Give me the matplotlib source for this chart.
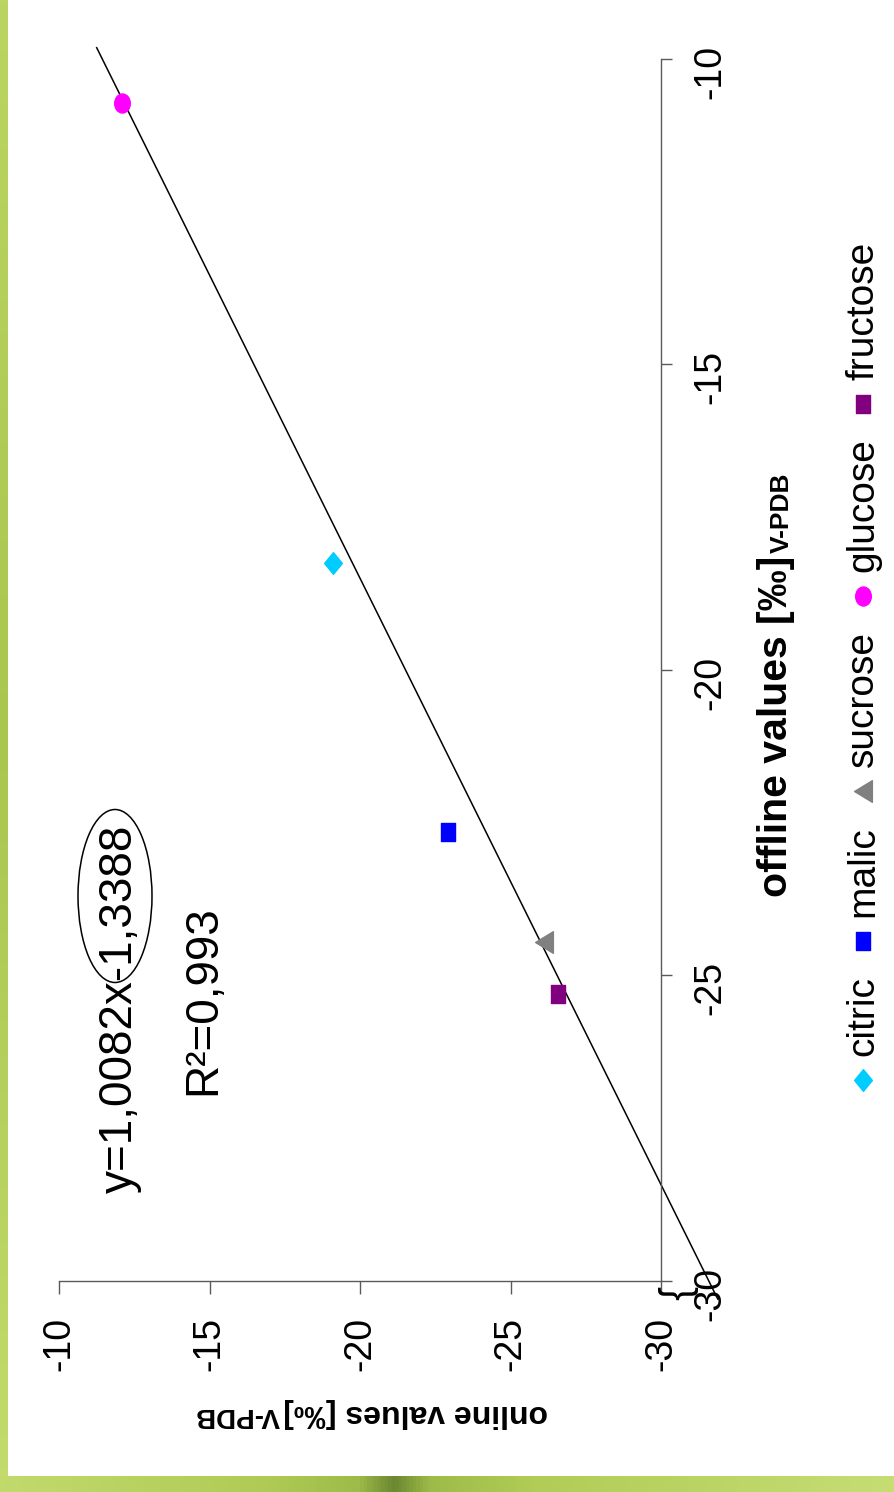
import matplotlib
matplotlib.use("Agg")
import matplotlib.pyplot as plt
import matplotlib.transforms as mtransforms
from matplotlib.markers import MarkerStyle
from matplotlib.patches import Ellipse
from matplotlib.colors import LinearSegmentedColormap
from matplotlib import font_manager
import numpy as np

W, H = 895, 1492

# d13C of each compound, offline (EA) vs online measurement
compounds = ["citric", "malic", "sucrose", "glucose", "fructose"]
offline_vals = [-18.26, -22.66, -24.46, -10.73, -25.30]
online_vals = [-19.11, -22.91, -26.10, -12.08, -26.57]

# linear trend online = slope * offline + intercept
slope, intercept = 1.0082, -1.3388
r_squared = 0.993
trend_range = [-30.3, -9.82]

ticks = [-10, -15, -20, -25, -30]

colors = ["#00CCFF", "#0000FF", "#808080", "#FF00FF", "#800080"]
markers = ["D", "s", "<", "o", "s"]
marker_sizes = [15.6, 13, 15.6, 13.7, 13]

plt.rcParams["font.family"] = ["Liberation Sans", "DejaVu Sans"]
plt.rcParams["axes.unicode_minus"] = False

try:
    font_manager.findfont(font_manager.FontProperties(family="Liberation Sans Narrow", weight="bold"),
                          fallback_to_default=False)
    narrow, narrow_size = "Liberation Sans Narrow", 27
except ValueError:
    narrow, narrow_size = "Liberation Sans", 23

fig = plt.figure(figsize=(W / 100, H / 100), dpi=100)
fig.patch.set_facecolor("white")

# pixel coordinates measured from the top-left corner
PX = mtransforms.Affine2D().scale(1, -1).translate(0, H)


def tall(m):
    # markers come out a bit taller than wide
    ms = MarkerStyle(m)
    path = ms.get_path().transformed(ms.get_transform())
    return path.transformed(mtransforms.Affine2D().scale(0.82, 1.0))


# green slide border
border = LinearSegmentedColormap.from_list("border", [
    (0.0, "#c2da6c"), (0.3, "#afcb55"), (0.40, "#9dbb48"), (0.44, "#6b8732"),
    (0.48, "#9dbb48"), (0.6, "#b1cd56"), (1.0, "#c6dd74")])
bax = fig.add_axes([0, 0, 1, 16 / H])
bax.imshow(np.linspace(0, 1, 256)[None, :], aspect="auto", cmap=border)
bax.axis("off")
side = LinearSegmentedColormap.from_list("side", ["#bcd562", "#a9c64e", "#c3db6c"])
lax = fig.add_axes([0, 16 / H, 8 / W, 1 - 16 / H])
lax.imshow(np.linspace(0, 1, 256)[:, None], aspect="auto", cmap=side)
lax.axis("off")

# rotated chart: online values run along the horizontal axis, offline values vertically
x0, x1 = 59.4, 661.0
y0, y1 = 58.7, 1280.7
ax = fig.add_axes([x0 / W, (H - y1) / H, (x1 - x0) / W, (y1 - y0) / H])
ax.set_xlim(-10, -30)
ax.set_ylim(-30, -10)
ax.set_facecolor("none")
for s in ["top", "left"]:
    ax.spines[s].set_visible(False)
for s in ["bottom", "right"]:
    ax.spines[s].set_color("#5a5a5a")
    ax.spines[s].set_linewidth(1.0)
ax.yaxis.tick_right()
ax.set_xticks(ticks)
ax.set_yticks(ticks)
ax.set_xticklabels([str(t) for t in ticks])
ax.set_yticklabels([str(t) for t in ticks])
ax.tick_params(axis="x", direction="out", length=9.4, width=1.0, color="#5a5a5a",
               pad=17, labelsize=27, labelrotation=90)
ax.tick_params(axis="y", direction="out", length=7.7, width=1.0, color="#5a5a5a",
               pad=15, labelsize=27, labelrotation=90, left=False, right=True)

# trend line from the fitted equation
tx = np.array(trend_range)
ax.plot(slope * tx + intercept, tx, color="black", lw=1.1, clip_on=False, zorder=2)

for off, on, c, m, ms in zip(offline_vals, online_vals, colors, markers, marker_sizes):
    ax.plot([on], [off], ls="none", marker=tall(m), ms=ms, color=c, mec=c, zorder=3)

# equation and R²
eq = f"y={slope:.4f}x{intercept:+.4f}".replace(".", ",")
fig.text(132, 1193, eq, transform=PX, rotation=90, rotation_mode="anchor",
         ha="left", va="baseline", fontsize=33)
fig.text(215, 1095, f"R²={r_squared:.3f}".replace(".", ","), transform=PX, rotation=90,
         rotation_mode="anchor", ha="left", va="baseline", fontsize=33)
fig.add_artist(Ellipse((115, 896), 74, 173, transform=PX, fill=False, ec="black", lw=1.1))

# axis break mark at the corner
fig.text(676, 1293, "}", transform=PX, rotation=-90, ha="center", va="center", fontsize=30)

fig.canvas.draw()
renderer = fig.canvas.get_renderer()
ID = mtransforms.IdentityTransform()

# axis titles with V-PDB subscript
t = fig.text(787, 897, "offline values [‰]", transform=PX, rotation=90, rotation_mode="anchor",
             ha="left", va="baseline", fontsize=29.5, fontweight="bold")
bb = t.get_window_extent(renderer)
fig.text(bb.x1 - 1, bb.y1 + 3, "V-PDB", transform=ID, rotation=90, ha="right", va="bottom",
         fontsize=19, fontweight="bold")

t = fig.text(548, 1405, "online values [‰]", transform=PX, rotation=180, rotation_mode="anchor",
             ha="left", va="baseline", fontsize=narrow_size, fontweight="bold", family=narrow)
bb = t.get_window_extent(renderer)
fig.text(bb.x0 - 3, bb.y1 - 4, "V-PDB", transform=ID, rotation=180, ha="right", va="top",
         fontsize=20, fontweight="bold", family=narrow)

# legend, laid out along the rotated baseline
cursor = 1080
for name, c, m, ms in zip(compounds, colors, markers, marker_sizes):
    ax.plot([863], [cursor], ls="none", marker=tall(m), ms=ms, color=c, mec=c,
            transform=PX, clip_on=False)
    lt = fig.text(873, cursor - 24, name, transform=PX, rotation=90, rotation_mode="anchor",
                  ha="left", va="baseline", fontsize=28)
    lb = lt.get_window_extent(renderer)
    cursor = cursor - 24 - lb.height - 35

fig.savefig("out.png", dpi=100)
